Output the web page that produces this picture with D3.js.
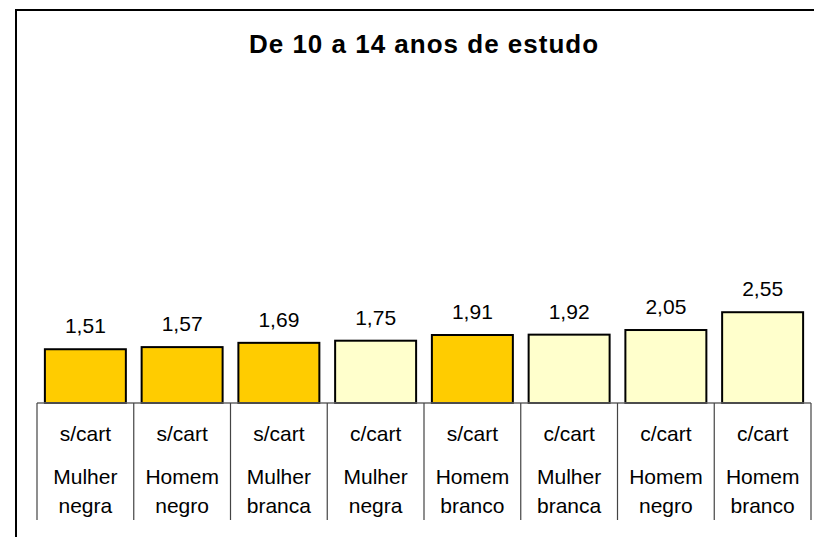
<!DOCTYPE html>
<html>
<head>
<meta charset="utf-8">
<script src="https://cdn.jsdelivr.net/npm/d3@7"></script>
<style>
  body { margin: 0; background: #fff; }
  svg { display: block; font-family: "Liberation Sans", Arial, sans-serif; }
</style>
</head>
<body>
<svg id="chart" width="814" height="537"></svg>
<script>
const title = "De 10 a 14 anos de estudo";
const statusLabels = ["s/cart", "s/cart", "s/cart", "c/cart", "s/cart", "c/cart", "c/cart", "c/cart"];
const groupLabels = [
  ["Mulher", "negra"], ["Homem", "negro"], ["Mulher", "branca"], ["Mulher", "negra"],
  ["Homem", "branco"], ["Mulher", "branca"], ["Homem", "negro"], ["Homem", "branco"]
];
const values = [1.51, 1.57, 1.69, 1.75, 1.91, 1.92, 2.05, 2.55];

const svg = d3.select("#chart");
const baseY = 403;
const idx = d3.range(values.length);

const cells = d3.scaleBand().domain(idx).range([37, 811]).padding(0);
const x = d3.scaleBand().domain(idx).range([37, 811]).paddingInner(0.163).paddingOuter(0.0815);
const y = d3.scaleLinear().domain([0, 8]).range([baseY, baseY - 8 * 35.6]);

const color = d3.scaleOrdinal().domain(["s/cart", "c/cart"]).range(["#FFCC00", "#FFFFCC"]);
const fmt = v => d3.format(".2f")(v).replace(".", ",");

// chart area border (right/bottom edges fall outside the window)
svg.append("rect")
  .attr("x", 16).attr("y", 10)
  .attr("width", 840).attr("height", 560)
  .attr("fill", "#fff")
  .attr("stroke", "#000")
  .attr("stroke-width", 2);

svg.append("text")
  .attr("x", 424).attr("y", 53)
  .attr("text-anchor", "middle")
  .style("font-size", "26px")
  .style("font-weight", "bold")
  .style("letter-spacing", "1px")
  .text(title);

// bars
svg.selectAll("rect.bar")
  .data(values)
  .enter()
  .append("rect")
    .attr("class", "bar")
    .attr("x", (d, i) => x(i))
    .attr("y", d => y(d))
    .attr("width", x.bandwidth())
    .attr("height", d => baseY - y(d))
    .attr("fill", (d, i) => color(statusLabels[i]))
    .attr("stroke", "#000")
    .attr("stroke-width", 2);

svg.selectAll("text.value")
  .data(values)
  .enter()
  .append("text")
    .attr("class", "value")
    .attr("x", (d, i) => x(i) + x.bandwidth() / 2)
    .attr("y", d => y(d) - 16)
    .attr("text-anchor", "middle")
    .style("font-size", "21px")
    .text(d => fmt(d));

// category axis: baseline plus dividers
svg.append("line")
  .attr("x1", 37).attr("x2", 811)
  .attr("y1", baseY).attr("y2", baseY)
  .attr("stroke", "#666").attr("stroke-width", 1.5);

const edges = idx.map(i => cells(i)).concat([cells(idx.length - 1) + cells.bandwidth()]);
svg.selectAll("line.div")
  .data(edges)
  .enter()
  .append("line")
    .attr("class", "div")
    .attr("x1", d => d).attr("x2", d => d)
    .attr("y1", baseY).attr("y2", 520)
    .attr("stroke", "#444").attr("stroke-width", 1.2);

const labels = svg.selectAll("g.cat")
  .data(idx)
  .enter()
  .append("g")
    .attr("class", "cat")
    .attr("transform", i => `translate(${cells(i) + cells.bandwidth() / 2},0)`);

labels.append("text")
  .attr("y", 441)
  .attr("text-anchor", "middle")
  .style("font-size", "21px")
  .text(i => statusLabels[i]);

labels.selectAll("text.grp")
  .data(i => groupLabels[i])
  .enter()
  .append("text")
    .attr("class", "grp")
    .attr("y", (d, j) => 484 + j * 29)
    .attr("text-anchor", "middle")
    .style("font-size", "21px")
    .text(d => d);
</script>
</body>
</html>
